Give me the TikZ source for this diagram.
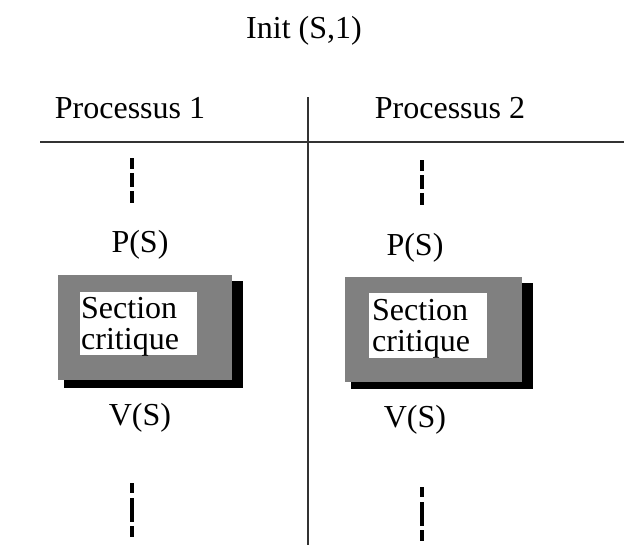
\documentclass[tikz,border=0pt]{standalone}
\usepackage{fontspec}
\setmainfont{Liberation Serif}
\tikzset{
  lbl/.style={font=\fontsize{32}{34}\selectfont, inner sep=0pt},
  sct/.style={inner sep=0pt, anchor=north west, align=left, font=\fontsize{32}{31}\selectfont},
  dots/.style={line width=3.6pt, dash pattern=on 11pt off 4pt on 14pt off 4pt on 12pt off 4pt},
  dotsb/.style={line width=3.6pt, dash pattern=on 10pt off 5pt on 24pt off 4pt on 12pt off 4pt},
  shadowbox/.style={fill=black, draw=none},
  graybox/.style={fill=gray, draw=none},
  whitebox/.style={fill=white, draw=none},
}
\begin{document}
\begin{tikzpicture}[x=1pt,y=-1pt]
\useasboundingbox (0,0) rectangle (624,547);
\node[lbl] (init) at (304,31) {Init (S,1)};
\node[lbl] (p1) at (130,108) {Processus 1};
\node[lbl] (p2) at (450,108) {Processus 2};
\coordinate (hl) at (40,142);
\coordinate (hr) at (624,142);
\draw[line width=2pt, black!80] (hl) -- (hr);
\coordinate (vt) at (308,97);
\coordinate (vb) at (308,545);
\draw[line width=1.6pt, black!80] (vt) -- (vb);
% left column
\coordinate (d1a) at (132,158); \coordinate (d1b) at (132,205);
\draw[dots] (d1a) -- (d1b);
\node[lbl] (ps1) at (140,245) {P(S)};
\fill[shadowbox] (64,281) rectangle (243,388);
\fill[graybox] (58,275) rectangle (232,380);
\fill[whitebox] (80,292) rectangle (197,355);
\node[sct] (sc1) at (81,297) {Section\\critique};
\node[lbl] (vs1) at (140,418) {V(S)};
\coordinate (d2a) at (132,483); \coordinate (d2b) at (132,537);
\draw[dotsb] (d2a) -- (d2b);
% right column
\coordinate (d3a) at (422,160); \coordinate (d3b) at (422,207);
\draw[dots] (d3a) -- (d3b);
\node[lbl] (ps2) at (415,248) {P(S)};
\fill[shadowbox] (351,283) rectangle (533,389);
\fill[graybox] (345,277) rectangle (522,382);
\fill[whitebox] (369,293) rectangle (487,358);
\node[sct] (sc2) at (372,299) {Section\\critique};
\node[lbl] (vs2) at (415,420) {V(S)};
\coordinate (d4a) at (422,487); \coordinate (d4b) at (422,541);
\draw[dotsb] (d4a) -- (d4b);
\end{tikzpicture}
\end{document}
